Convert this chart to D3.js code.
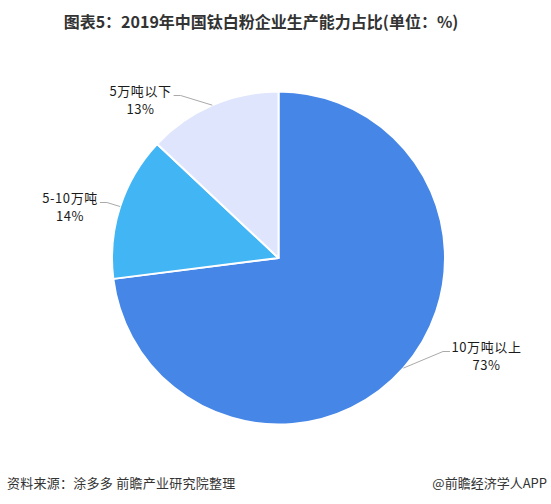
<!DOCTYPE html>
<html>
<head>
<meta charset="utf-8">
<script src="https://cdn.jsdelivr.net/npm/d3@7"></script>
<style>
  body { margin: 0; background: #fff; }
  text { font-family: "Noto Sans CJK SC", "Noto Sans", sans-serif; }
</style>
</head>
<body>
<div id="chart"></div>
<script>
// data
var categories = ["10万吨以上", "5-10万吨", "5万吨以下"];
var shares = [73, 14, 13];   // %
var colors = ["#4586E6", "#42B5F5", "#DFE5FC"];

// label placement (offset of label centre from pie centre)
var labelOffsets = [[208, 94], [-208.5, -55], [-138, -162]];

var width = 551, height = 504;
var cx = 278.5, cy = 258, radius = 166.5;

var svg = d3.select("#chart").append("svg")
  .attr("width", width)
  .attr("height", height);

// title
svg.append("text")
  .attr("x", 261).attr("y", 28)
  .attr("text-anchor", "middle")
  .attr("font-size", "16px")
  .attr("font-weight", "bold")
  .attr("fill", "#333")
  .text("图表5：2019年中国钛白粉企业生产能力占比(单位：%)");

var data = categories.map(function(c, i) { return {name: c, value: shares[i], color: colors[i], off: labelOffsets[i]}; });

var pie = d3.pie().sort(null).value(function(d) { return d.value; });
var arc = d3.arc().innerRadius(0).outerRadius(radius);

var g = svg.append("g").attr("transform", "translate(" + cx + "," + cy + ")");

var arcs = pie(data);

g.selectAll("path.slice")
  .data(arcs)
  .enter().append("path")
  .attr("class", "slice")
  .attr("d", arc)
  .attr("fill", function(d) { return d.data.color; })
  .attr("stroke", "#fff")
  .attr("stroke-width", 2)
  .attr("stroke-linejoin", "round");

// labels
var labels = g.selectAll("g.lbl")
  .data(arcs)
  .enter().append("g")
  .attr("class", "lbl");

labels.each(function(d) {
  var sel = d3.select(this);
  var t = sel.append("text")
    .attr("text-anchor", "middle")
    .attr("font-size", "13px")
    .attr("letter-spacing", "0.6px")
    .attr("fill", "#1a1a1a");
  t.append("tspan").attr("x", d.data.off[0]).attr("y", d.data.off[1]).text(d.data.name);
  t.append("tspan").attr("x", d.data.off[0]).attr("y", d.data.off[1] + 18).text(d.data.value + "%");

  // leader line from slice edge to label
  var mid = (d.startAngle + d.endAngle) / 2;
  var sx = radius * Math.sin(mid), sy = -radius * Math.cos(mid);
  var bb = t.node().getBBox();
  var right = d.data.off[0] > 0;
  var ex = right ? bb.x - 1.5 : bb.x + bb.width + 2;
  var ey = d.data.off[1] - 0.5;
  var kx = right ? ex - 7 : ex + 7;
  sel.insert("polyline", "text")
    .attr("points", [[sx, sy], [kx, ey], [ex, ey]].map(function(p) { return p.join(","); }).join(" "))
    .attr("fill", "none")
    .attr("stroke", "#aaa")
    .attr("stroke-width", 1);
});

// footer
svg.append("text")
  .attr("x", 7).attr("y", 488)
  .attr("font-size", "13px")
  .attr("letter-spacing", "0.25px")
  .attr("fill", "#333")
  .text("资料来源：涂多多 前瞻产业研究院整理");

svg.append("text")
  .attr("x", 547).attr("y", 488)
  .attr("text-anchor", "end")
  .attr("font-size", "13px")
  .attr("fill", "#333")
  .text("@前瞻经济学人APP");
</script>
</body>
</html>
